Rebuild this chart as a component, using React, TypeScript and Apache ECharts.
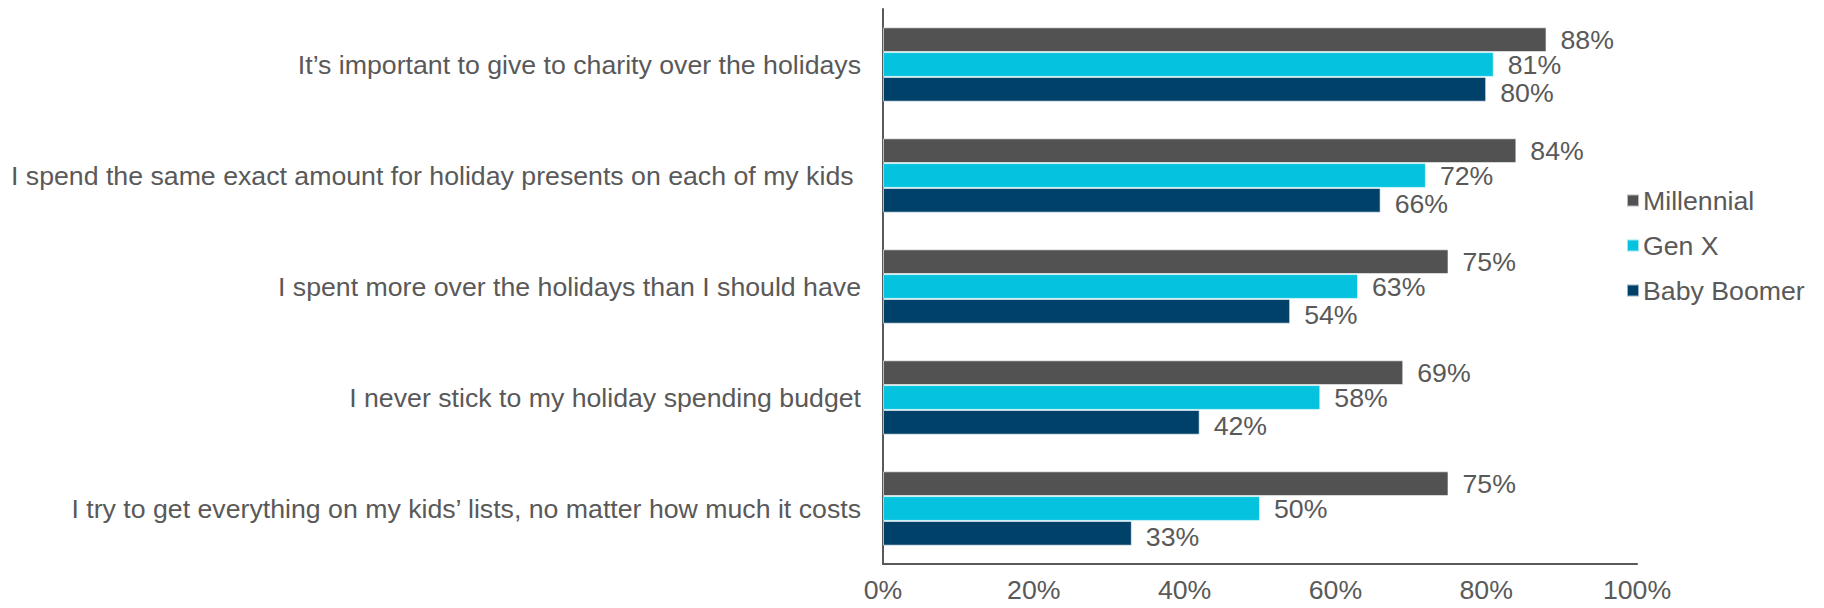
import React, { useEffect, useRef } from "react";
import * as echarts from "echarts";

const categories = [
  "It\u2019s important to give to charity over the holidays",
  "I spend the same exact amount for holiday presents on each of my kids ",
  "I spent more over the holidays than I should have",
  "I never stick to my holiday spending budget",
  "I try to get everything on my kids\u2019 lists, no matter how much it costs",
];
const millennial = [88, 84, 75, 69, 75];
const genX = [81, 72, 63, 58, 50];
const babyBoomer = [80, 66, 54, 42, 33];
const xTicks = [0, 20, 40, 60, 80, 100];

const TEXT = "#595959";
const FONT = "Liberation Sans, Arial, sans-serif";
const FS = 26.7;

export default function App() {
  const ref = useRef<HTMLDivElement>(null);
  useEffect(() => {
    if (!ref.current) return;
    const chart = echarts.init(ref.current, undefined, { renderer: "svg" });
    const mkSeries = (name: string, data: number[], color: string, labelOffset: number[]) => ({
      name,
      type: "bar",
      data,
      barGap: "0%",
      barCategoryGap: "33%",
      itemStyle: { color, borderColor: "rgba(255,255,255,0.6)", borderWidth: 1 },
      label: {
        show: true,
        position: "right",
        distance: 14,
        offset: labelOffset,
        formatter: "{c}%",
        color: TEXT,
        fontSize: FS,
        fontFamily: FONT,
      },
    });
    chart.setOption({
      animation: false,
      textStyle: { fontFamily: FONT },
      grid: { left: 883, right: 187, top: 9, bottom: 44, containLabel: false },
      legend: {
        orient: "vertical",
        left: 1621,
        top: 182,
        itemWidth: 12,
        itemHeight: 12,
        itemGap: 18,
        icon: "rect",
        textStyle: { color: TEXT, fontSize: FS, fontFamily: FONT, padding: [0, 0, 0, -1] },
        data: ["Millennial", "Gen X", "Baby Boomer"],
      },
      xAxis: {
        type: "value",
        min: xTicks[0],
        max: xTicks[xTicks.length - 1],
        interval: 20,
        splitLine: { show: false },
        axisTick: { show: false },
        axisLine: { show: true, lineStyle: { color: TEXT, width: 2 } },
        axisLabel: {
          formatter: "{value}%",
          color: TEXT,
          fontSize: FS,
          fontFamily: FONT,
          margin: 12,
        },
      },
      yAxis: {
        type: "category",
        inverse: true,
        data: categories,
        axisTick: { show: false },
        axisLine: { show: true, lineStyle: { color: TEXT, width: 2 } },
        axisLabel: { color: TEXT, fontSize: FS, fontFamily: FONT, margin: 22 },
      },
      series: [
        mkSeries("Millennial", millennial, "#525252", [0, 0]),
        mkSeries("Gen X", genX, "#05C3DE", [0, 0]),
        mkSeries("Baby Boomer", babyBoomer, "#00416A", [0, 4]),
      ],
    });
    return () => chart.dispose();
  }, []);
  return <div ref={ref} style={{ width: 1824, height: 608, margin: -8 }} />;
}
